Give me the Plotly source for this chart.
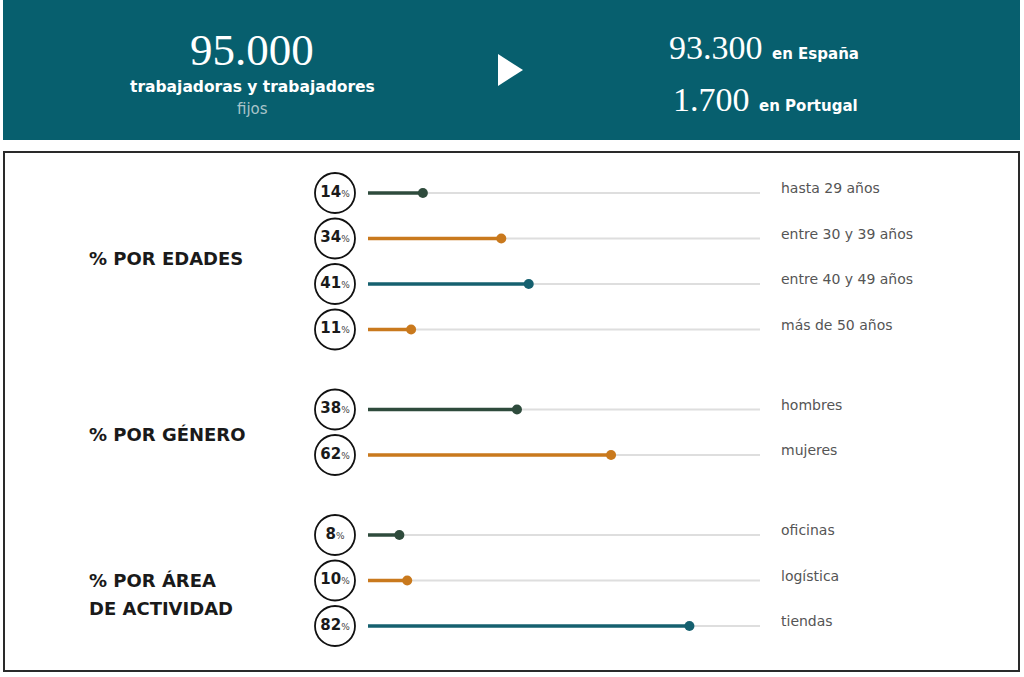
import plotly.graph_objects as go

# ---------------- data ----------------
header_total = "95.000"
header_total_sub = "trabajadoras y trabajadores"
header_total_sub2 = "fijos"
header_countries = ["en España", "en Portugal"]
header_country_values = ["93.300", "1.700"]

group_titles = [["% POR EDADES"], ["% POR GÉNERO"], ["% POR ÁREA", "DE ACTIVIDAD"]]
row_labels = ["hasta 29 años", "entre 30 y 39 años", "entre 40 y 49 años", "más de 50 años",
              "hombres", "mujeres",
              "oficinas", "logística", "tiendas"]
row_values = [14, 34, 41, 11, 38, 62, 8, 10, 82]
row_group = [0, 0, 0, 0, 1, 1, 2, 2, 2]
row_color_key = ["green", "orange", "teal", "orange", "green", "orange", "green", "orange", "teal"]

# ---------------- style ----------------
W, H = 1024, 677
FONT = "DejaVu Sans"
SERIF = "Liberation Serif"
BANNER = "#075f6e"
COLORS = {"green": "#2e4b3c", "orange": "#c9791d", "teal": "#15606f"}
TRACK = "#dedede"

# pixel layout
ROW0_PX = 193.0
ROW_STEP = 45.5
GROUP_GAP_PX = 34.5
X0_PX, X100_PX = 368.0, 760.0
CIRCLE_X_PX = 335.0
LABEL_X_PX = 781.0
BOX_TOP, BOX_BOTTOM = 152.0, 671.0

s = (X100_PX - X0_PX) / 100.0
xrange_ = [-X0_PX / s, (W - X0_PX) / s]

def px_x(px):
    return px / W

def px_y(py):
    return 1 - py / H

# row positions in "row units" (reversed axis)
gap_units = GROUP_GAP_PX / ROW_STEP
ypos = [i + g * gap_units for i, g in enumerate(row_group)]
y_top_units = (0 - ROW0_PX) / ROW_STEP
y_bot_units = (H - ROW0_PX) / ROW_STEP

fig = go.Figure()

# background tracks
for yv in ypos:
    fig.add_trace(go.Scatter(x=[0, 100], y=[yv, yv], mode="lines",
                             line=dict(color=TRACK, width=2), hoverinfo="skip", showlegend=False))

# colored lollipops
for yv, v, ck in zip(ypos, row_values, row_color_key):
    c = COLORS[ck]
    fig.add_trace(go.Scatter(x=[0, v], y=[yv, yv], mode="lines",
                             line=dict(color=c, width=3.5), hoverinfo="skip", showlegend=False))
    fig.add_trace(go.Scatter(x=[v], y=[yv], mode="markers",
                             marker=dict(color=c, size=10), hoverinfo="skip", showlegend=False))

# circles with percentages
cx = (CIRCLE_X_PX - X0_PX) / s
fig.add_trace(go.Scatter(
    x=[cx] * len(ypos), y=ypos, mode="markers+text",
    marker=dict(symbol="circle", size=40, color="white", line=dict(color="#111111", width=1.8)),
    text=[f"<b>{v}</b><span style='font-size:9px;fill:#444'>%</span>" for v in row_values],
    textposition="middle center",
    textfont=dict(family=FONT, size=15, color="#1a1a1a"),
    hoverinfo="skip", showlegend=False))

# row labels
lx = (LABEL_X_PX - X0_PX) / s
fig.add_trace(go.Scatter(
    x=[lx] * len(ypos), y=[y - 0.07 for y in ypos], mode="text",
    text=row_labels, textposition="middle right",
    textfont=dict(family=FONT, size=14, color="#555555"),
    hoverinfo="skip", showlegend=False))

shapes = [
    dict(type="rect", xref="paper", yref="paper", x0=px_x(3), x1=px_x(1020), y0=px_y(140), y1=px_y(0),
         fillcolor=BANNER, line=dict(width=0), layer="below"),
    dict(type="rect", xref="paper", yref="paper", x0=px_x(4), x1=px_x(1019), y0=px_y(BOX_BOTTOM), y1=px_y(BOX_TOP),
         fillcolor="rgba(0,0,0,0)", line=dict(color="#2a2a2a", width=2)),
    dict(type="path", xref="paper", yref="paper",
         path=f"M {px_x(498)} {px_y(54)} L {px_x(523)} {px_y(70)} L {px_x(498)} {px_y(86)} Z",
         fillcolor="white", line=dict(width=0)),
]

annotations = [
    dict(x=px_x(252), y=px_y(50), xref="paper", yref="paper", text=header_total, showarrow=False,
         font=dict(family=SERIF, size=45, color="white"), xanchor="center", yanchor="middle"),
    dict(x=px_x(252), y=px_y(87), xref="paper", yref="paper", text=f"<b>{header_total_sub}</b>", showarrow=False,
         font=dict(family=FONT, size=15.5, color="white"), xanchor="center", yanchor="middle"),
    dict(x=px_x(252), y=px_y(109), xref="paper", yref="paper", text=header_total_sub2, showarrow=False,
         font=dict(family=FONT, size=15, color="#a9c4c9"), xanchor="center", yanchor="middle"),
]
for i, (val, country) in enumerate(zip(header_country_values, header_countries)):
    yc = [48, 99][i]
    xc = [667, 671][i]
    annotations.append(dict(
        x=px_x(xc), y=px_y(yc), xref="paper", yref="paper", showarrow=False,
        text=f"<span style='font-family:{SERIF};font-size:34px'>{val}</span>  <b>{country}</b>",
        font=dict(family=FONT, size=15, color="white"), xanchor="left", yanchor="middle"))

title_y_px = [[258], [434], [580, 608]]
for lines, ys in zip(group_titles, title_y_px):
    for t, ty in zip(lines, ys):
        annotations.append(dict(
            x=px_x(87), y=px_y(ty), xref="paper", yref="paper", showarrow=False, text=f"<b>{t}</b>",
            align="left", font=dict(family=FONT, size=18, color="#1a1a1a"),
            xanchor="left", yanchor="middle"))

fig.update_layout(
    width=W, height=H,
    margin=dict(l=0, r=0, t=0, b=0),
    paper_bgcolor="white", plot_bgcolor="rgba(0,0,0,0)",
    xaxis=dict(range=xrange_, domain=[0, 1], visible=False, fixedrange=True),
    yaxis=dict(range=[y_bot_units, y_top_units], domain=[0, 1], visible=False, fixedrange=True),
    shapes=shapes, annotations=annotations,
)

fig.write_html("out.html")
